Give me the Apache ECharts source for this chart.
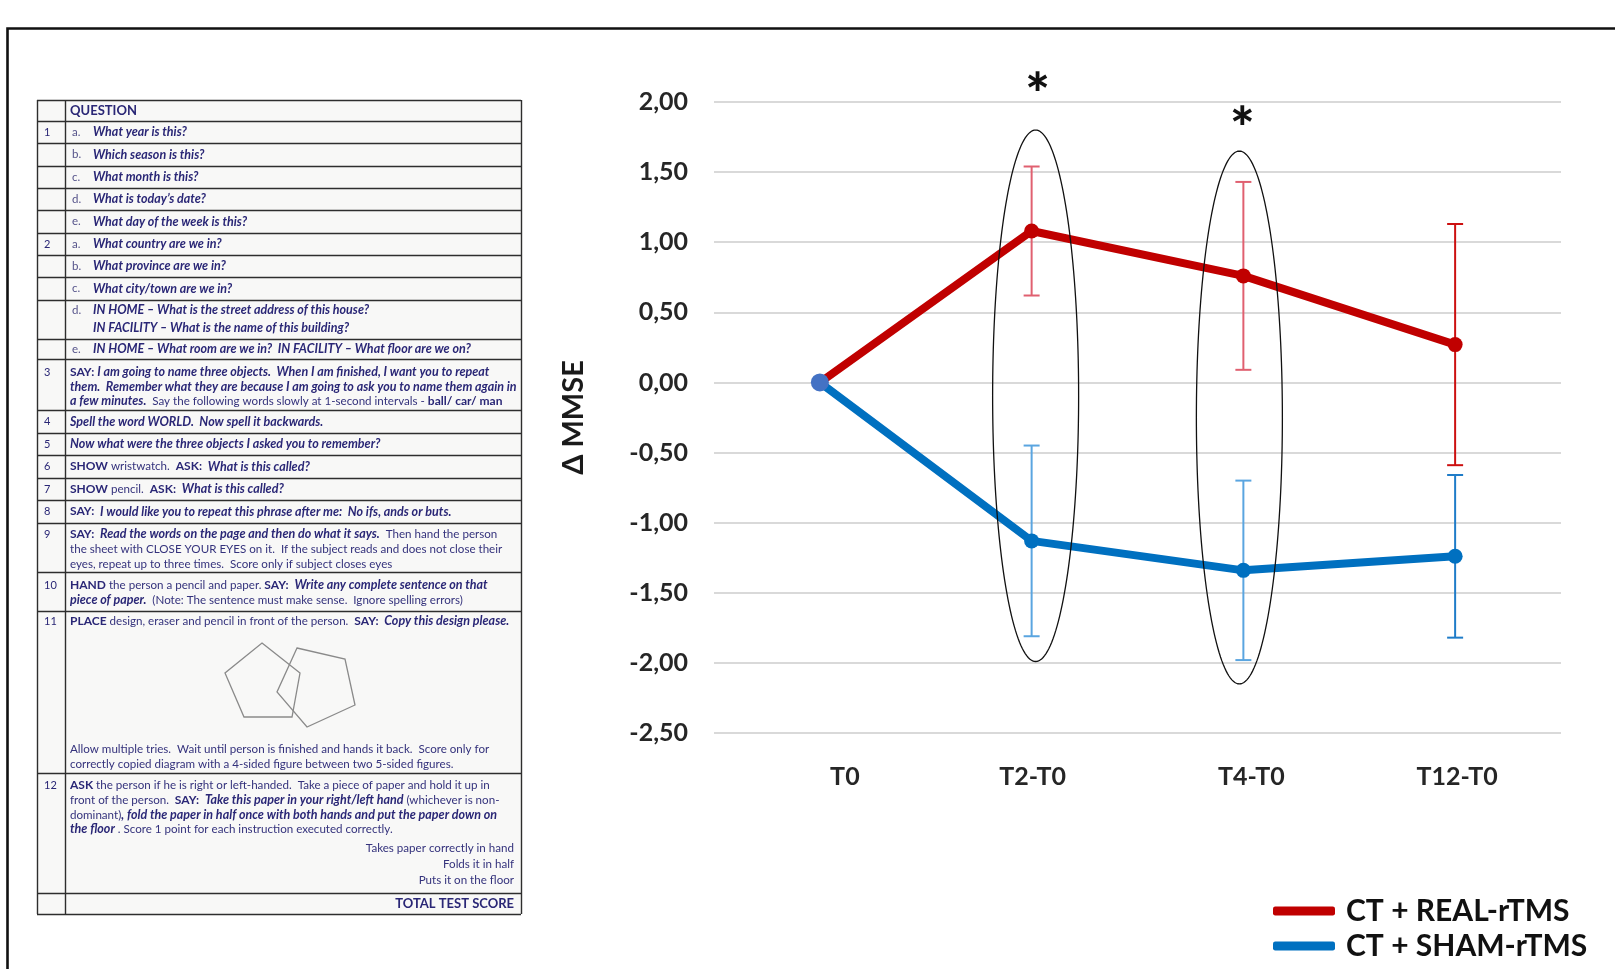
<!DOCTYPE html>
<html>
<head>
<meta charset="utf-8">
<script src="https://cdn.jsdelivr.net/npm/echarts@6/dist/echarts.min.js"></script>
<style>
  html, body { margin: 0; padding: 0; background: #ffffff; }
  #main { width: 1615px; height: 969px; }
</style>
</head>
<body>
<div id="main"></div>
<script>
// ---- chart data ----
const categories = ['T0', 'T2-T0', 'T4-T0', 'T12-T0'];
const realNames = 'CT + REAL-rTMS';
const shamNames = 'CT + SHAM-rTMS';
const realMeans = [0, 1.08, 0.76, 0.27];
const realErr   = [0, 0.46, 0.67, 0.86];
const shamMeans = [0, -1.13, -1.34, -1.24];
const shamErr   = [0, 0.68, 0.64, 0.58];
const yMin = -2.5, yMax = 2, yStep = 0.5;
// significant time points (category index) with the vertical span that is circled
const sigIndex  = [1, 2];
const sigTop    = [1.80, 1.65];
const sigBottom = [-1.99, -2.15];
const sigStar   = [2.04, 1.80];

// ---- MMSE form text ----
const mmseNums = ['', '1', '', '', '', '', '2', '', '', '', '', '3', '4', '5', '6', '7', '8', '9', '10', '11', '12', ''];
const mmseSubs = ['', 'a.', 'b.', 'c.', 'd.', 'e.', 'a.', 'b.', 'c.', 'd.', 'e.'];
const mmseLines = [
  ['{h|QUESTION}'],
  ['{bi|What year is this?}'],
  ['{bi|Which season is this?}'],
  ['{bi|What month is this?}'],
  ['{bi|What is today\u2019s date?}'],
  ['{bi|What day of the week is this?}'],
  ['{bi|What country are we in?}'],
  ['{bi|What province are we in?}'],
  ['{bi|What city/town are we in?}'],
  ['{bi|IN HOME \u2013 What is the street address of this house?}',
   '{bi|IN FACILITY \u2013 What is the name of this building?}'],
  ['{bi|IN HOME \u2013 What room are we in?  IN FACILITY \u2013 What floor are we on?}'],
  ['{b|SAY: }{bi|I am going to name three objects.  When I am finished, I want you to repeat}',
   '{bi|them.  Remember what they are because I am going to ask you to name them again in}',
   '{bi|a few minutes.}{n|  Say the following words slowly at 1-second intervals - }{b|ball/ car/ man}'],
  ['{bi|Spell the word WORLD.  Now spell it backwards.}'],
  ['{bi|Now what were the three objects I asked you to remember?}'],
  ['{b|SHOW}{n| wristwatch.  }{b|ASK:  }{bi|What is this called?}'],
  ['{b|SHOW}{n| pencil.  }{b|ASK:  }{bi|What is this called?}'],
  ['{b|SAY:  }{bi|I would like you to repeat this phrase after me:  No ifs, ands or buts.}'],
  ['{b|SAY:  }{bi|Read the words on the page and then do what it says.}{n|  Then hand the person}',
   '{n|the sheet with CLOSE YOUR EYES on it.  If the subject reads and does not close their}',
   '{n|eyes, repeat up to three times.  Score only if subject closes eyes}'],
  ['{b|HAND}{n| the person a pencil and paper. }{b|SAY:  }{bi|Write any complete sentence on that}',
   '{bi|piece of paper.}{n|  (Note: The sentence must make sense.  Ignore spelling errors)}'],
  ['{b|PLACE}{n| design, eraser and pencil in front of the person.  }{b|SAY:  }{bi|Copy this design please.}',
   '{n|Allow multiple tries.  Wait until person is finished and hands it back.  Score only for}',
   '{n|correctly copied diagram with a 4-sided figure between two 5-sided figures.}'],
  ['{b|ASK}{n| the person if he is right or left-handed.  Take a piece of paper and hold it up in}',
   '{n|front of the person.  }{b|SAY:  }{bi|Take this paper in your right/left hand}{n| (whichever is non-}',
   '{n|dominant)}{bi|, fold the paper in half once with both hands and put the paper down on}',
   '{bi|the floor}{n| . Score 1 point for each instruction executed correctly.}',
   '{n|Takes paper correctly in hand}',
   '{n|Folds it in half}',
   '{n|Puts it on the floor}'],
  ['{h|TOTAL TEST SCORE}']
];

// ---- form layout ----
const FONT = 'Lato, "Open Sans", sans-serif';
const NAVY = '#2a2776';
const NAVY_LIGHT = '#34327c';
const tX0 = 37, tXNum = 65, tX1 = 521;
const rowEdges = [100, 121, 143, 166, 188, 210, 233, 255, 277, 300, 339, 359, 410, 433, 455,
                  478, 500, 523, 572, 611, 773, 893, 914];
// per-row line centres where a row holds more than one line
const lineCentres = {
  9: [310, 328],
  11: [372, 386.5, 401],
  17: [534, 549, 564],
  18: [585, 600],
  19: [621, 749, 764],
  20: [785, 800, 815, 829, 848, 864, 880]
};
const rightAligned = { 20: [4, 5, 6], 21: [0] };

const RICH = {
  h:  { fontFamily: FONT, fontSize: 13, fontWeight: 'bold', fill: NAVY, color: NAVY },
  b:  { fontFamily: FONT, fontSize: 12, fontWeight: 'bold', fill: NAVY, color: NAVY },
  bi: { fontFamily: FONT, fontSize: 12.5, fontWeight: 'bold', fontStyle: 'italic', fill: NAVY, color: NAVY },
  n:  { fontFamily: FONT, fontSize: 11.6, fill: NAVY_LIGHT, color: NAVY_LIGHT }
};

function buildForm() {
  const g = [];
  const yTop = rowEdges[0], yBot = rowEdges[rowEdges.length - 1];
  g.push({ type: 'rect', shape: { x: tX0, y: yTop, width: tX1 - tX0, height: yBot - yTop },
           style: { fill: '#f8f8f7' }, z: 1 });
  rowEdges.forEach(function (y) {
    g.push({ type: 'line', shape: { x1: tX0, y1: y + 0.5, x2: tX1, y2: y + 0.5 },
             style: { stroke: '#2e2e2e', lineWidth: 1.4 }, z: 2 });
  });
  [tX0, tXNum, tX1].forEach(function (x) {
    g.push({ type: 'line', shape: { x1: x + 0.5, y1: yTop, x2: x + 0.5, y2: yBot },
             style: { stroke: '#2e2e2e', lineWidth: 1.4 }, z: 2 });
  });
  mmseLines.forEach(function (lines, r) {
    const top = rowEdges[r], bot = rowEdges[r + 1];
    const mid = (top + bot) / 2;
    const ys = lineCentres[r] || [mid];
    const hasSub = r < mmseSubs.length && mmseSubs[r];
    const firstY = ys[0];
    if (mmseNums[r]) {
      g.push({ type: 'text', x: 44, y: firstY, z: 3,
               style: { text: mmseNums[r], font: '11px ' + FONT, fill: NAVY, verticalAlign: 'middle' } });
    }
    if (hasSub) {
      g.push({ type: 'text', x: 72, y: firstY, z: 3,
               style: { text: mmseSubs[r], font: '11.5px ' + FONT, fill: '#55538a', verticalAlign: 'middle' } });
    }
    const ra = rightAligned[r] || [];
    lines.forEach(function (t, i) {
      const right = ra.indexOf(i) >= 0;
      g.push({ type: 'text', x: right ? 514 : (hasSub ? 93 : 70), y: ys[i], z: 3,
               style: { text: t, rich: RICH, align: right ? 'right' : 'left', verticalAlign: 'middle',
                        font: '11.6px ' + FONT, fill: NAVY } });
    });
  });
  // the two overlapping pentagons of item 11
  g.push({ type: 'polygon', z: 3, shape: { points: [[262, 643], [300, 673], [292, 717], [244, 717], [225, 673]] },
           style: { fill: 'none', stroke: '#8a8a8a', lineWidth: 1.3 } });
  g.push({ type: 'polygon', z: 3, shape: { points: [[297, 648], [345, 659], [355, 705], [307, 727], [277, 692]] },
           style: { fill: 'none', stroke: '#8a8a8a', lineWidth: 1.3 } });
  // surrounding frame
  g.push({ type: 'rect', z: 0, shape: { x: 7.5, y: 28.5, width: 1800, height: 1200 },
           style: { fill: 'none', stroke: '#111111', lineWidth: 2.6 } });
  return g;
}

// ---- error bars through the chart's own scales ----
function errorBars(means, errs, colors) {
  return {
    type: 'custom', silent: true, z: 1,
    data: means.map(function (m, i) { return [i, m - errs[i], m + errs[i]]; }),
    renderItem: function (params, api) {
      const lo = api.value(1), hi = api.value(2);
      if (lo === hi) return null;
      const i = api.value(0);
      const a = api.coord([i, hi]);
      const b = api.coord([i, lo]);
      const w = 8;
      const style = { stroke: colors[params.dataIndex], lineWidth: 2 };
      return { type: 'group', children: [
        { type: 'line', shape: { x1: a[0], y1: a[1], x2: b[0], y2: b[1] }, style: style },
        { type: 'line', shape: { x1: a[0] - w, y1: a[1], x2: a[0] + w, y2: a[1] }, style: style },
        { type: 'line', shape: { x1: b[0] - w, y1: b[1], x2: b[0] + w, y2: b[1] }, style: style }
      ] };
    }
  };
}

// ---- circled significant points with asterisks (hand-drawn look: slight horizontal nudge) ----
const ringNudge = [4, -4];
const starNudge = [6, -1];
const sigSeries = {
  type: 'custom', silent: true, z: 5,
  data: sigIndex.map(function (c, k) { return [c, sigTop[k], sigBottom[k], sigStar[k]]; }),
  renderItem: function (params, api) {
    const k = params.dataIndex;
    const c = api.value(0);
    const t = api.coord([c, api.value(1)]);
    const b = api.coord([c, api.value(2)]);
    const s = api.coord([c, api.value(3)]);
    const cx = t[0] + ringNudge[k], cy = (t[1] + b[1]) / 2, rx = 43, ry = (b[1] - t[1]) / 2;
    const pts = [];
    for (let j = 0; j <= 180; j++) {
      const a = (j / 180) * Math.PI * 2;
      pts.push([cx + rx * Math.cos(a), cy + ry * Math.sin(a)]);
    }
    return { type: 'group', children: [
      { type: 'polyline', shape: { points: pts }, style: { fill: 'none', stroke: '#111111', lineWidth: 1.3 } },
      { type: 'text', x: s[0] + starNudge[k], y: s[1], style: { text: '*', font: '900 58px ' + FONT, fill: '#111111',
        align: 'center', verticalAlign: 'middle' } }
    ] };
  }
};

const chart = echarts.init(document.getElementById('main'), null, { renderer: 'canvas' });
const labelShift = [50, 2, 16, 4];
const richX = {};
categories.forEach(function (c, i) {
  richX['c' + i] = { fontSize: 25, fontWeight: 'bold', color: '#262626', fontFamily: FONT,
                     padding: [0, 0, 0, labelShift[i]] };
});

chart.setOption({
  animation: false,
  backgroundColor: '#ffffff',
  textStyle: { fontFamily: FONT },
  grid: { left: 714, width: 847, top: 102, height: 631, containLabel: false, outerBoundsMode: 'none' },
  xAxis: {
    type: 'category', data: categories, boundaryGap: true,
    axisLine: { show: false }, axisTick: { show: false },
    axisLabel: { margin: 31, formatter: function (v) { return '{c' + categories.indexOf(v) + '|' + v + '}'; },
                 rich: richX }
  },
  yAxis: {
    type: 'value', min: yMin, max: yMax, interval: yStep,
    name: '\u0394 MMSE', nameLocation: 'middle', nameRotate: 90, nameGap: 126,
    nameTextStyle: { fontSize: 29, fontWeight: 'bold', color: '#1a1a1a', fontFamily: FONT },
    axisLine: { show: false }, axisTick: { show: false },
    axisLabel: { margin: 26, fontSize: 25, fontWeight: 'bold', color: '#262626',
                 formatter: function (v) { return v.toFixed(2).replace('.', ','); } },
    splitLine: { lineStyle: { color: '#d9d9d9', width: 2 } }
  },
  legend: {
    orient: 'vertical', left: 1268, top: 891, itemGap: 5, itemWidth: 62, itemHeight: 9,
    icon: 'roundRect', selectedMode: false,
    data: [realNames, shamNames],
    textStyle: { fontSize: 30, fontWeight: 'bold', color: '#111111', fontFamily: FONT, padding: [0, 0, 0, 6] }
  },
  graphic: { elements: buildForm() },
  series: [
    errorBars(realMeans, realErr, ['#e06070', '#e06070', '#e06070', '#cc1010']),
    errorBars(shamMeans, shamErr, ['#5aa5e0', '#5aa5e0', '#5aa5e0', '#1f7cc8']),
    {
      type: 'line', name: realNames, data: realMeans, z: 3, color: '#c00000',
      lineStyle: { width: 8, color: '#c00000' }, symbol: 'circle', symbolSize: 15,
      itemStyle: { color: '#c00000' }
    },
    {
      type: 'line', name: shamNames, z: 4, color: '#0070c0',
      data: shamMeans.map(function (v, i) {
        return i === 0 ? { value: v, symbolSize: 18, itemStyle: { color: '#4472c4' } } : v;
      }),
      lineStyle: { width: 8, color: '#0070c0' }, symbol: 'circle', symbolSize: 15,
      itemStyle: { color: '#0070c0' }
    },
    sigSeries
  ]
});
</script>
</body>
</html>
